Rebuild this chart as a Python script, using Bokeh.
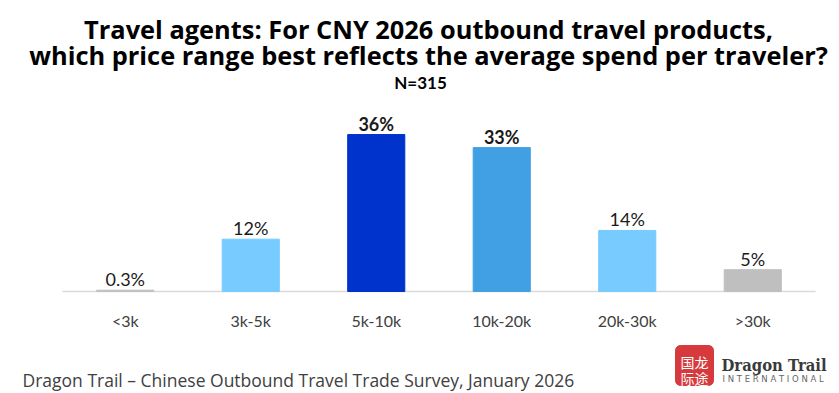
from bokeh.plotting import figure
from bokeh.models import ColumnDataSource, Range1d, Label
from bokeh.core.properties import value
from bokeh.embed import file_html
from bokeh.resources import INLINE

# ---- data ----
categories = ["<3k", "3k-5k", "5k-10k", "10k-20k", "20k-30k", ">30k"]
shares = [0.3, 12, 36, 33, 14, 5]
value_labels = ["0.3%", "12%", "36%", "33%", "14%", "5%"]
bar_colors = ["#bfbfbf", "#78cbff", "#0033cc", "#41a0e3", "#78cbff", "#bfbfbf"]

title_lines = ["Travel agents: For CNY 2026 outbound travel products,",
               "which price range best reflects the average spend per traveler?"]
subtitle = "N=315"
footer = "Dragon Trail \u2013 Chinese Outbound Travel Trade Survey, January 2026"
logo_chars = ["\u56fd\u9f99", "\u9645\u9014"]
logo_name = "Dragon Trail"
logo_sub = "I N T E R N A T I O N A L"

# ---- layout (pixels) ----
W, H = 839, 393
PLOT_L, PLOT_R = 62, 815      # horizontal extent of the category band
BASE_Y = 291                  # baseline (0 %) pixel row
PX_PER_PCT = 4.36

n = len(categories)
cat_px = (PLOT_R - PLOT_L) / n
x_range = Range1d(-PLOT_L / cat_px, n + (W - PLOT_R) / cat_px)
y_range = Range1d(-(H - BASE_Y) / PX_PER_PCT, BASE_Y / PX_PER_PCT)

p = figure(width=W, height=H, output_backend="svg", toolbar_location=None,
           x_range=x_range, y_range=y_range,
           x_axis_location=None, y_axis_location=None,
           min_border=0, min_border_left=0, min_border_right=0,
           min_border_top=0, min_border_bottom=0)
p.outline_line_color = None
p.grid.grid_line_color = None
p.background_fill_color = "white"
p.border_fill_color = "white"
p.extra_x_ranges = {"px": Range1d(0, W)}
p.extra_y_ranges = {"px": Range1d(H, 0)}

top_two = sorted(shares, reverse=True)[:2]
styles = ["bold" if v in top_two else "normal" for v in shares]
xs = [i + 0.5 for i in range(n)]
src = ColumnDataSource(dict(x=xs, cat=categories, val=shares, lab=value_labels,
                            col=bar_colors, sty=styles, zero=[0] * n))

# baseline (category axis line)
p.segment(x0=[0], y0=[0], x1=[n], y1=[0], line_color="#d9d9d9", line_width=1.5)

p.vbar(x="x", top="val", width=0.455, bottom=0, color="col", source=src)
p.text(x="x", y="val", text="lab", source=src, text_align="center",
       text_baseline="alphabetic", y_offset=-11, text_font=value("Lato"),
       text_font_size="18px", text_color="#1a1a1a", text_font_style="sty")
# category labels
p.text(x="x", y="zero", text="cat", source=src, text_align="center",
       text_baseline="alphabetic", y_offset=29, text_font=value("Lato"),
       text_font_size="16px", text_color="#404040")


def px_label(x, y, text, **kw):
    p.add_layout(Label(x=x, y=y, text=text, x_range_name="px",
                       y_range_name="px", text_baseline="alphabetic", **kw))


# title
for i, t in enumerate(title_lines):
    px_label(428, 28 + 26 * i, t, text_align="center", text_font="Open Sans",
             text_font_style="bold", text_font_size="25.4px", text_color="#000000")
px_label(420, 82, subtitle, text_align="center", text_font="Lato",
         text_font_style="bold", text_font_size="17px", text_color="#000000")

# footer
px_label(22, 379, footer, text_align="left", text_font="Open Sans",
         text_font_size="17.5px", text_color="#404040")

# logo
p.quad(left=[675], right=[713], top=[345], bottom=[385], color="#d63a3d",
       border_radius=5, x_range_name="px", y_range_name="px")
for i, row in enumerate(logo_chars):
    px_label(694, 361 + 16 * i, row, text_align="center",
             text_font="Noto Sans CJK SC", text_font_size="14px",
             text_color="white")
px_label(721, 365, logo_name, text_align="left",
         text_font="DejaVu Serif Condensed", text_font_style="bold",
         text_font_size="16.5px", text_color="#3a3a3a")
px_label(722, 378, logo_sub, text_align="left", text_font="DejaVu Sans",
         text_font_size="8.5px", text_color="#666666")

open("out.html", "w").write(file_html(p, INLINE))
